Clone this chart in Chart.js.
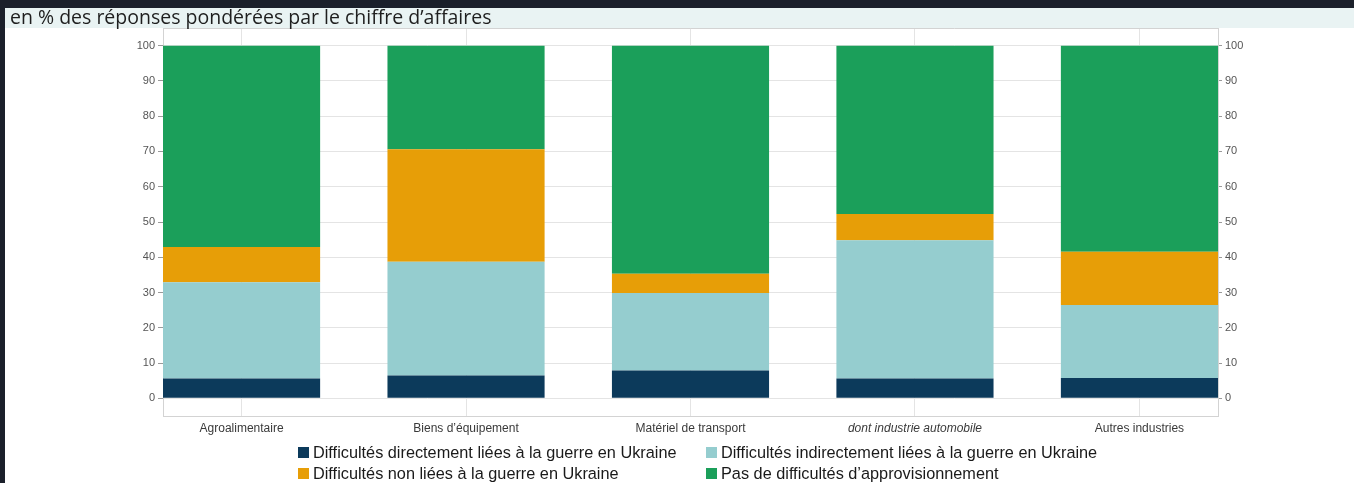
<!DOCTYPE html>
<html>
<head>
<meta charset="utf-8">
<script src="https://cdn.jsdelivr.net/npm/chart.js@4.4.1/dist/chart.umd.min.js"></script>
<style>
  html, body { margin:0; padding:0; width:1354px; height:483px; overflow:hidden; background:#ffffff; }
  #topbar { position:absolute; left:0; top:0; width:1354px; height:8px; background:#1b202b; }
  #leftbar { position:absolute; left:0; top:0; width:5px; height:483px; background:#1b202b; z-index:3; }
  #band { position:absolute; left:5px; top:8px; width:1349px; height:20px; background:#e9f3f3; }
  #title { position:absolute; left:10px; top:7px; font-family:'Open Sans', sans-serif; font-size:19.5px; line-height:20px; color:#1e1e1e; white-space:nowrap; z-index:2; }
  #wrap { position:absolute; left:0; top:0; width:1354px; height:483px; }
  #legend { position:absolute; left:298px; top:444px; display:grid; grid-template-columns:408px auto; row-gap:5px; font-family:'Liberation Sans', Arial, sans-serif; font-size:16.3px; color:#1a1a1a; }
  .item { display:flex; align-items:center; height:16px; line-height:16px; white-space:nowrap; }
  .sw { width:11px; height:11px; margin-right:4px; flex:none; }
</style>
</head>
<body>
<div id="topbar"></div>
<div id="band"></div>
<div id="leftbar"></div>
<div id="title">en % des réponses pondérées par le chiffre d’affaires</div>
<div id="wrap"><canvas id="c" width="1354" height="483"></canvas></div>
<div id="legend"></div>
<script>
// ---- data ----
const CATEGORIES = ['Agroalimentaire', 'Biens d’équipement', 'Matériel de transport', 'dont industrie automobile', 'Autres industries'];
const SERIES = [
  'Difficultés directement liées à la guerre en Ukraine',
  'Difficultés indirectement liées à la guerre en Ukraine',
  'Difficultés non liées à la guerre en Ukraine',
  'Pas de difficultés d’approvisionnement'
];
const DIRECT     = [5.6, 6.5, 7.9, 5.6, 5.8];
const INDIRECT   = [27.3, 32.2, 22.0, 39.2, 20.7];
const NON_LIEES  = [10.0, 31.9, 5.4, 7.5, 15.1];
const PAS_DIFF   = [57.1, 29.4, 64.7, 47.7, 58.4];
const Y_TICKS = [0, 10, 20, 30, 40, 50, 60, 70, 80, 90, 100];
const Y_MIN = -5, Y_MAX = 105;
const ITALIC_CATEGORY = 'dont industrie automobile';

// ---- styles ----
const COLORS = ['#0c3a5b', '#95cdcf', '#e79e07', '#1b9f5a'];
const BAR_FRACTION = 0.7;
const X_PAD = BAR_FRACTION / 2;

const VALUES = [DIRECT, INDIRECT, NON_LIEES, PAS_DIFF];
const datasets = SERIES.map((label, s) => ({
  label,
  data: VALUES[s].map((v, i) => ({ x: i, y: v })),
  backgroundColor: COLORS[s],
  borderWidth: 0,
  categoryPercentage: 1,
  barPercentage: BAR_FRACTION
}));

const gridColor = '#e4e4e4';
const borderColor = '#d3d3d3';
const tickFont = { family: "'Liberation Sans', Arial, sans-serif", size: 11 };

const frameTop = {
  id: 'frameTop',
  afterDraw(chart) {
    const { ctx, chartArea } = chart;
    ctx.save();
    ctx.strokeStyle = borderColor;
    ctx.lineWidth = 1;
    ctx.beginPath();
    ctx.moveTo(chartArea.left, Math.round(chartArea.top) + 0.5);
    ctx.lineTo(chartArea.right, Math.round(chartArea.top) + 0.5);
    ctx.stroke();
    ctx.restore();
  }
};

const chart = new Chart(document.getElementById('c'), {
  type: 'bar',
  data: { datasets },
  options: {
    responsive: false,
    animation: false,
    layout: { padding: { top: 28, left: 0, right: 0, bottom: 0 } },
    plugins: { legend: { display: false }, tooltip: { enabled: false }, title: { display: false } },
    scales: {
      x: {
        type: 'linear',
        stacked: true,
        offset: false,
        min: -X_PAD,
        max: CATEGORIES.length - 1 + X_PAD,
        afterBuildTicks: s => { s.ticks = CATEGORIES.map((_, i) => ({ value: i })); },
        afterFit: s => { s.height = 67; },
        grid: { color: gridColor, drawTicks: false, offset: false },
        border: { display: true, color: borderColor },
        ticks: {
          padding: 5,
          color: '#3a3a3a',
          autoSkip: false,
          maxRotation: 0,
          callback: v => CATEGORIES[v],
          font: ctx => ({
            family: "'Liberation Sans', Arial, sans-serif",
            size: 12,
            style: CATEGORIES[ctx.index] === ITALIC_CATEGORY ? 'italic' : 'normal'
          })
        }
      },
      y: {
        type: 'linear',
        position: 'left',
        stacked: true,
        min: Y_MIN,
        max: Y_MAX,
        afterBuildTicks: s => { s.ticks = Y_TICKS.map(v => ({ value: v })); },
        afterFit: s => { s.width = 163; },
        grid: { color: gridColor, tickLength: 5, tickColor: '#9a9a9a' },
        border: { display: true, color: borderColor },
        ticks: { font: tickFont, color: '#555555', padding: 3 }
      },
      y2: {
        type: 'linear',
        position: 'right',
        min: Y_MIN,
        max: Y_MAX,
        afterBuildTicks: s => { s.ticks = Y_TICKS.map(v => ({ value: v })); },
        afterFit: s => { s.width = 136; },
        grid: { drawOnChartArea: false, tickLength: 4, tickColor: '#9a9a9a' },
        border: { display: true, color: borderColor },
        ticks: { font: tickFont, color: '#555555', padding: 3 }
      }
    }
  },
  plugins: [frameTop]
});

// HTML legend built from the datasets
const legend = document.getElementById('legend');
chart.data.datasets.forEach(ds => {
  const item = document.createElement('div');
  item.className = 'item';
  const sw = document.createElement('span');
  sw.className = 'sw';
  sw.style.background = ds.backgroundColor;
  const tx = document.createElement('span');
  tx.textContent = ds.label;
  item.appendChild(sw);
  item.appendChild(tx);
  legend.appendChild(item);
});
</script>
</body>
</html>
